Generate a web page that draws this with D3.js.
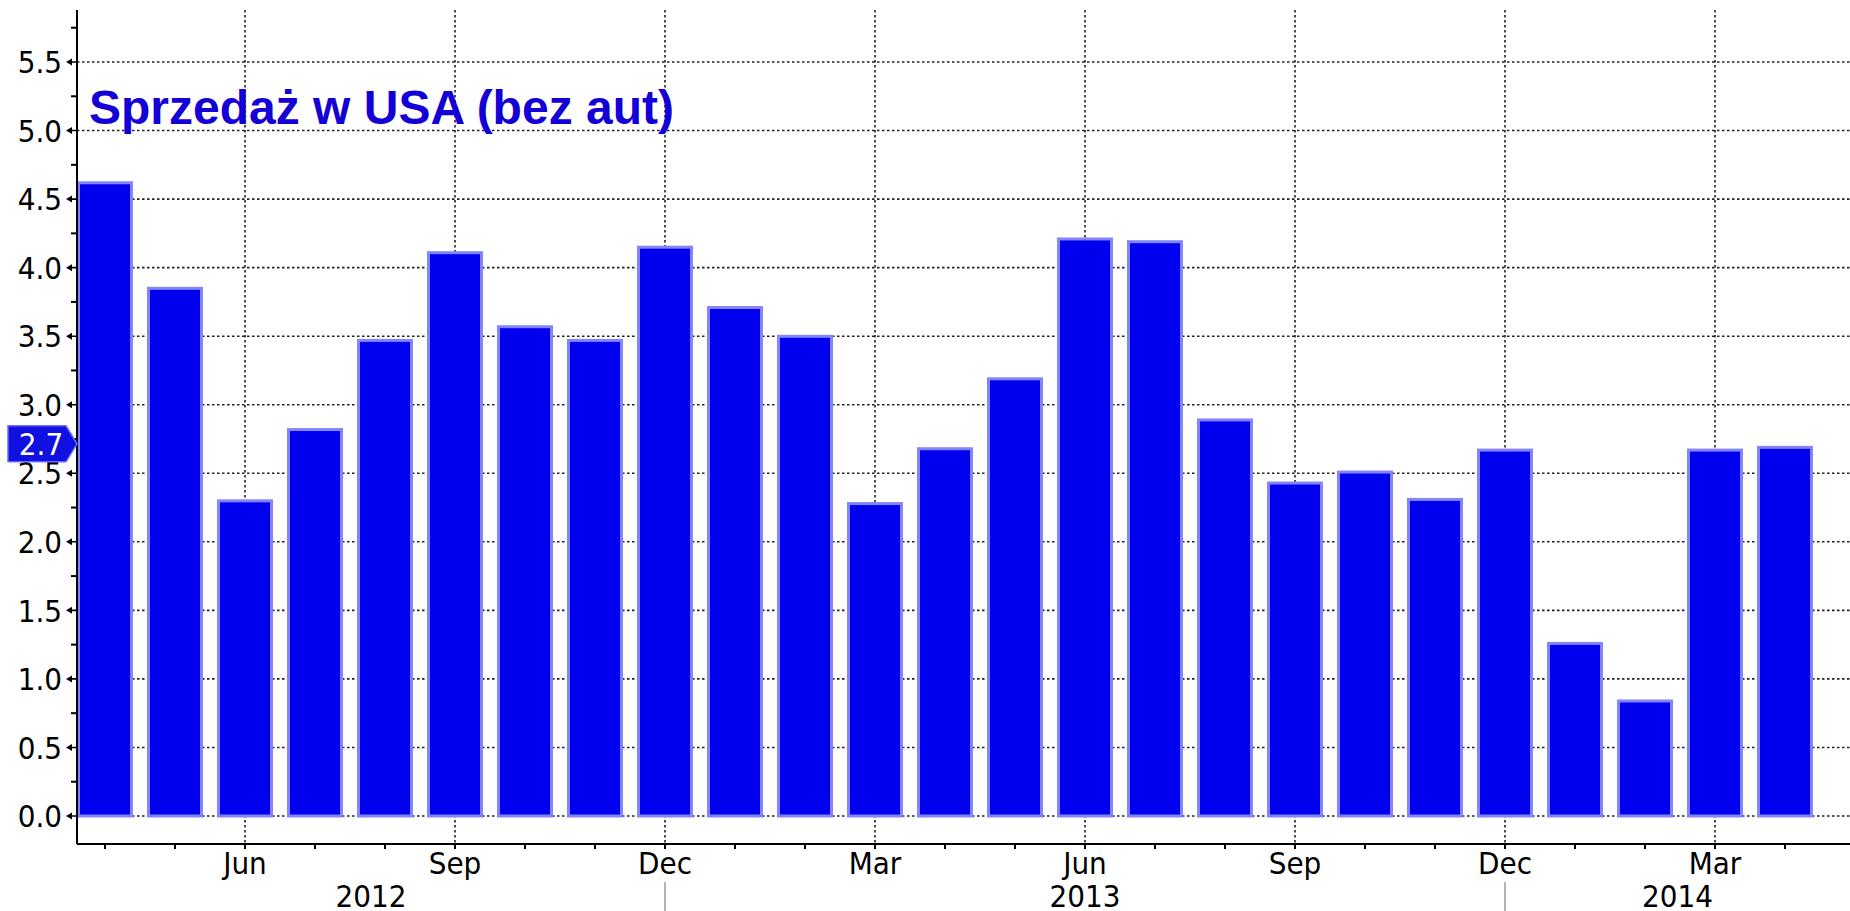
<!DOCTYPE html>
<html>
<head>
<meta charset="utf-8">
<script src="https://cdn.jsdelivr.net/npm/d3@7"></script>
<style>
  html, body { margin: 0; padding: 0; background: #fff; }
  svg { display: block; }
  .tick-label { font-family: "DejaVu Sans", Verdana, sans-serif; font-stretch: condensed; font-size: 31px; fill: #000; }
</style>
</head>
<body>
<div id="chart"></div>
<script>
// monthly data, Apr 2012 .. Apr 2014
const months = [
  "2012-04", "2012-05", "2012-06", "2012-07", "2012-08", "2012-09", "2012-10", "2012-11", "2012-12",
  "2013-01", "2013-02", "2013-03", "2013-04", "2013-05", "2013-06", "2013-07", "2013-08", "2013-09",
  "2013-10", "2013-11", "2013-12", "2014-01", "2014-02", "2014-03", "2014-04"
];
const values = [
  4.63, 3.86, 2.31, 2.83, 3.48, 4.12, 3.58, 3.48, 4.16,
  3.72, 3.51, 2.29, 2.69, 3.20, 4.22, 4.20, 2.90, 2.44,
  2.52, 2.32, 2.68, 1.27, 0.85, 2.68, 2.70
];
const monthTicks = ["2012-06", "2012-09", "2012-12", "2013-03", "2013-06", "2013-09", "2013-12", "2014-03"];
const monthNames = ["Jan", "Feb", "Mar", "Apr", "May", "Jun", "Jul", "Aug", "Sep", "Oct", "Nov", "Dec"];
const yearSplits = ["2012-12", "2013-12"];
const years = ["2012", "2013", "2014"];
const yTicks = [0, 0.5, 1, 1.5, 2, 2.5, 3, 3.5, 4, 4.5, 5, 5.5];
const yMinorTicks = d3.range(0.25, 6, 0.5);
const title = "Sprzedaż w USA (bez aut)";
const lastValue = 2.7;

const width = 1850, height = 911;
const axisX = 77, axisY = 844, plotTop = 10;

const svg = d3.select("#chart").append("svg")
  .attr("width", width)
  .attr("height", height);

const x = d3.scaleBand()
  .domain(months)
  .range([70, 1820])
  .paddingInner(0.2)
  .paddingOuter(0.1);
const xc = (m) => x(m) + x.bandwidth() / 2;

const y = d3.scaleLinear().domain([0, 5.5]).range([816, 62]);

// grid
const grid = svg.append("g").attr("stroke", "#222").attr("stroke-width", 1.6).attr("stroke-dasharray", "2.5,2.5");
grid.selectAll("line.h").data(yTicks).join("line")
  .attr("x1", axisX).attr("x2", width)
  .attr("y1", (d) => y(d)).attr("y2", (d) => y(d));
grid.selectAll("line.v").data(monthTicks).join("line")
  .attr("x1", (d) => xc(d)).attr("x2", (d) => xc(d))
  .attr("y1", plotTop).attr("y2", axisY);

// bars
svg.append("g").selectAll("rect").data(months).join("rect")
  .attr("x", (d) => x(d) + 1.5)
  .attr("width", x.bandwidth() - 3)
  .attr("y", (d, i) => y(values[i]) + 1.5)
  .attr("height", (d, i) => y(0) - y(values[i]) - 1.5)
  .attr("fill", "#0000ee")
  .attr("stroke", "#8484ff")
  .attr("stroke-width", 3);

// title
svg.append("text")
  .attr("x", 89).attr("y", 124)
  .attr("font-family", "'Liberation Sans', Arial, sans-serif")
  .attr("font-weight", "bold")
  .attr("font-size", 48)
  .attr("fill", "#1400d6")
  .text(title);

// y axis
const yAxis = svg.append("g");
yAxis.append("line")
  .attr("x1", axisX).attr("x2", axisX).attr("y1", plotTop).attr("y2", axisY)
  .attr("stroke", "#000").attr("stroke-width", 2);
yAxis.selectAll("line.minor").data(yMinorTicks).join("line")
  .attr("x1", axisX - 6).attr("x2", axisX)
  .attr("y1", (d) => y(d)).attr("y2", (d) => y(d))
  .attr("stroke", "#000").attr("stroke-width", 2);
yAxis.selectAll("path.major").data(yTicks).join("path")
  .attr("d", (d) => `M${axisX - 11},${y(d)} L${axisX - 5},${y(d) - 3.5} L${axisX - 5},${y(d) + 3.5} Z M${axisX - 8},${y(d) - 0.8} H${axisX} V${y(d) + 0.8} H${axisX - 8} Z`)
  .attr("fill", "#000");
yAxis.selectAll("text").data(yTicks).join("text")
  .attr("class", "tick-label")
  .attr("x", 62)
  .attr("y", (d) => y(d))
  .attr("dy", "0.36em")
  .attr("text-anchor", "end")
  .text((d) => d.toFixed(1));

// x axis
const xAxis = svg.append("g");
xAxis.append("line")
  .attr("x1", axisX).attr("x2", width).attr("y1", axisY).attr("y2", axisY)
  .attr("stroke", "#000").attr("stroke-width", 2);
xAxis.selectAll("line.tick").data(months).join("line")
  .attr("x1", (d) => xc(d)).attr("x2", (d) => xc(d))
  .attr("y1", axisY).attr("y2", axisY + 5)
  .attr("stroke", "#000").attr("stroke-width", 2);
xAxis.selectAll("text.month").data(monthTicks).join("text")
  .attr("class", "tick-label")
  .attr("x", (d) => xc(d))
  .attr("y", 874)
  .attr("text-anchor", "middle")
  .text((d) => monthNames[+d.slice(5) - 1]);

// year separators and labels
const splitX = [axisX, ...yearSplits.map(xc), width];
xAxis.selectAll("line.split").data(yearSplits).join("line")
  .attr("x1", (d) => xc(d)).attr("x2", (d) => xc(d))
  .attr("y1", 882).attr("y2", height)
  .attr("stroke", "#999").attr("stroke-width", 1.5);
xAxis.selectAll("text.year").data(years).join("text")
  .attr("class", "tick-label")
  .attr("x", (d, i) => (splitX[i] + splitX[i + 1]) / 2)
  .attr("y", 907)
  .attr("text-anchor", "middle")
  .text((d) => d);

// last value marker
const ly = y(lastValue) - 2;
svg.append("path")
  .attr("d", `M8,${ly - 18} H66 L77,${ly} L66,${ly + 18} H8 Z`)
  .attr("fill", "#1010e0")
  .attr("stroke", "#6a6aff")
  .attr("stroke-width", 1.5);
svg.append("text")
  .attr("class", "tick-label")
  .attr("x", 41).attr("y", ly)
  .attr("dy", "0.36em")
  .attr("text-anchor", "middle")
  .style("fill", "#fff")
  .text(lastValue.toFixed(1));
</script>
</body>
</html>
